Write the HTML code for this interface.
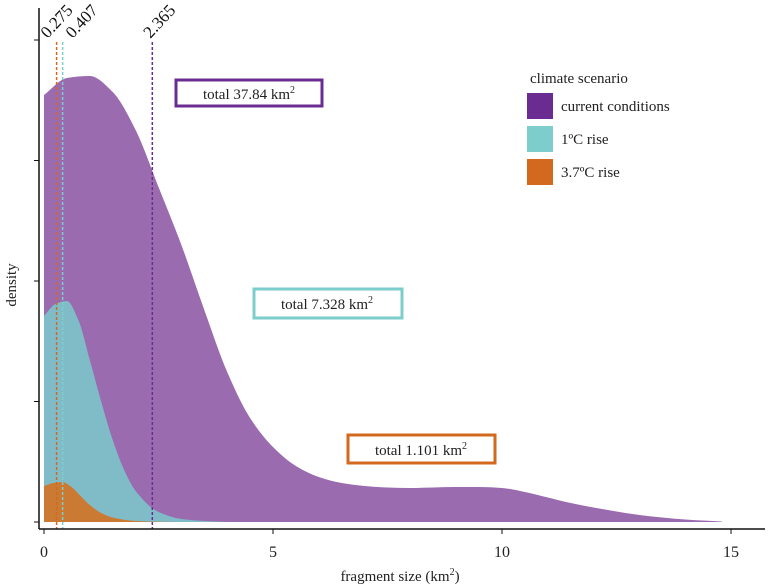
<!DOCTYPE html>
<html><head><meta charset="utf-8"><style>
body{margin:0;background:#fff;}
svg{font-family:"Liberation Serif","DejaVu Serif",serif;display:block;}
</style></head><body>
<svg id="chart" width="770" height="585" viewBox="0 0 770 585">
<g id="areas"></g><g id="vlines"></g><g id="axes"></g>
<g>
<text x="400" y="581" font-size="15" text-anchor="middle" fill="#222">fragment size (km<tspan dy="-6" font-size="10">2</tspan><tspan dy="6">)</tspan></text>
<text x="16" y="285" font-size="15" text-anchor="middle" fill="#222" transform="rotate(-90 16 285)">density</text>
</g>
<g>
<rect x="176" y="80" width="146" height="26" fill="#fff" stroke="#6a2c91" stroke-width="3"/>
<text x="249" y="99" font-size="15" text-anchor="middle" fill="#222">total 37.84 km<tspan dy="-6" font-size="10">2</tspan></text>
<rect x="254" y="289" width="148" height="29" fill="#fff" stroke="#7ccdcc" stroke-width="3"/>
<text x="327" y="309" font-size="15" text-anchor="middle" fill="#222">total 7.328 km<tspan dy="-6" font-size="10">2</tspan></text>
<rect x="348" y="435" width="147" height="28" fill="#fff" stroke="#d2691e" stroke-width="3"/>
<text x="421" y="455" font-size="15" text-anchor="middle" fill="#222">total 1.101 km<tspan dy="-6" font-size="10">2</tspan></text>
</g>
<g>
<text x="530" y="83" font-size="15" fill="#222">climate scenario</text>
<rect x="527" y="93" width="26" height="26" fill="#6a2c91"/>
<text x="561" y="111" font-size="15" fill="#222">current conditions</text>
<rect x="527" y="126" width="26" height="26" fill="#7ccdcc"/>
<text x="561" y="144" font-size="15" fill="#222">1ºC rise</text>
<rect x="527" y="159" width="26" height="26" fill="#d2691e"/>
<text x="561" y="177" font-size="15" fill="#222">3.7ºC rise</text>
</g>
</svg>
<script>
const xGrid=[0,0.5,1,1.5,2,2.5,3,3.5,4,4.5,5,5.5,6,6.5,7,7.5,8,8.5,9,9.5,10,10.5,11,11.5,12,12.5,13,13.5,14,14.5,14.8];
const currentDensity=[4.27,4.44,4.46,4.30,3.92,3.35,2.77,2.12,1.50,1.04,0.75,0.56,0.45,0.39,0.36,0.345,0.34,0.345,0.35,0.35,0.34,0.30,0.245,0.19,0.145,0.105,0.07,0.045,0.025,0.012,0.005];
const xGridB=[0,0.25,0.5,0.75,1,1.25,1.5,1.75,2,2.5,3,3.5,4];
const rise1Density=[2.06,2.18,2.21,2.02,1.62,1.20,0.82,0.52,0.31,0.10,0.03,0.01,0];
const xGridC=[0,0.2,0.4,0.6,0.8,1.0,1.25,1.5,2,2.5,3];
const rise37Density=[0.36,0.39,0.40,0.35,0.26,0.17,0.09,0.045,0.01,0.003,0];
const medians=[0.275,0.407,2.365];
const medianLabels=["0.275","0.407","2.365"];
const xTicks=[0,5,10,15];
const yTicks=[0,1.2,2.4,3.6,4.8];
const ns="http://www.w3.org/2000/svg";
const X=v=>44+v*45.8, Y=d=>522-d*100;
function mk(tag,at,parent){const e=document.createElementNS(ns,tag);for(const k in at)e.setAttribute(k,at[k]);parent.appendChild(e);return e;}
function monotone(xs,ys){
  const n=xs.length,h=[],s=[],m=new Array(n);
  for(let i=0;i<n-1;i++){h[i]=xs[i+1]-xs[i];s[i]=(ys[i+1]-ys[i])/h[i];}
  m[0]=s[0];m[n-1]=s[n-2];
  for(let i=1;i<n-1;i++){
    if(s[i-1]*s[i]<=0)m[i]=0;
    else{const w1=2*h[i]+h[i-1],w2=h[i]+2*h[i-1];m[i]=(w1+w2)/(w1/s[i-1]+w2/s[i]);}
  }
  return m;
}
function smooth(xs,ys){
  const m=monotone(xs,ys);
  let d=`M${X(xs[0])},${Y(0)}L${X(xs[0])},${Y(ys[0])}`;
  for(let i=0;i<xs.length-1;i++){
    const h=xs[i+1]-xs[i];
    const c1x=xs[i]+h/3,c1y=ys[i]+m[i]*h/3,c2x=xs[i+1]-h/3,c2y=ys[i+1]-m[i+1]*h/3;
    d+=`C${X(c1x)},${Y(c1y)} ${X(c2x)},${Y(c2y)} ${X(xs[i+1])},${Y(ys[i+1])}`;
  }
  return d+`L${X(xs[xs.length-1])},${Y(0)}Z`;
}
const areas=document.getElementById('areas');
const a1=mk('path',{d:smooth(xGrid,currentDensity),fill:'#9b6bb0'},areas);


const a2=mk('path',{d:smooth(xGridB,rise1Density),fill:'#80bcc8'},areas);


const a3=mk('path',{d:smooth(xGridC,rise37Density),fill:'#cb7a34'},areas);


const vl=document.getElementById('vlines');
const vcol=['#d2691e','#7ccdcc','#6a2c91'];
const labDx=[-9,10,-2];
medians.forEach((m,i)=>{
const l=mk('line',{x1:X(m),x2:X(m),y1:42,y2:529,stroke:vcol[i],'stroke-width':1.5,'stroke-dasharray':'3,2'},vl);


const tx=X(m)+labDx[i], ty=39;
const t=mk('text',{x:tx,y:ty,'font-size':17,fill:'#111',transform:`rotate(-47 ${tx} ${ty})`},vl);
t.textContent=medianLabels[i];


});
const ax=document.getElementById('axes');
const yAxis=mk('line',{x1:39,x2:39,y1:8,y2:529,stroke:'#111','stroke-width':1.5},ax);


const xAxis=mk('line',{x1:39,x2:765,y1:529,y2:529,stroke:'#111','stroke-width':1.5},ax);


yTicks.forEach(v=>{const yy=Y(v)-(v/1.2)*0.5;const t=mk('line',{x1:34,x2:39,y1:yy,y2:yy,stroke:'#111'},ax);

});
xTicks.forEach(v=>{const t=mk('line',{x1:X(v),x2:X(v),y1:529,y2:534,stroke:'#111'},ax);


const l=mk('text',{x:X(v),y:557,'font-size':16,'text-anchor':'middle',fill:'#222'},ax);l.textContent=v;

});
</script>
</body></html>
